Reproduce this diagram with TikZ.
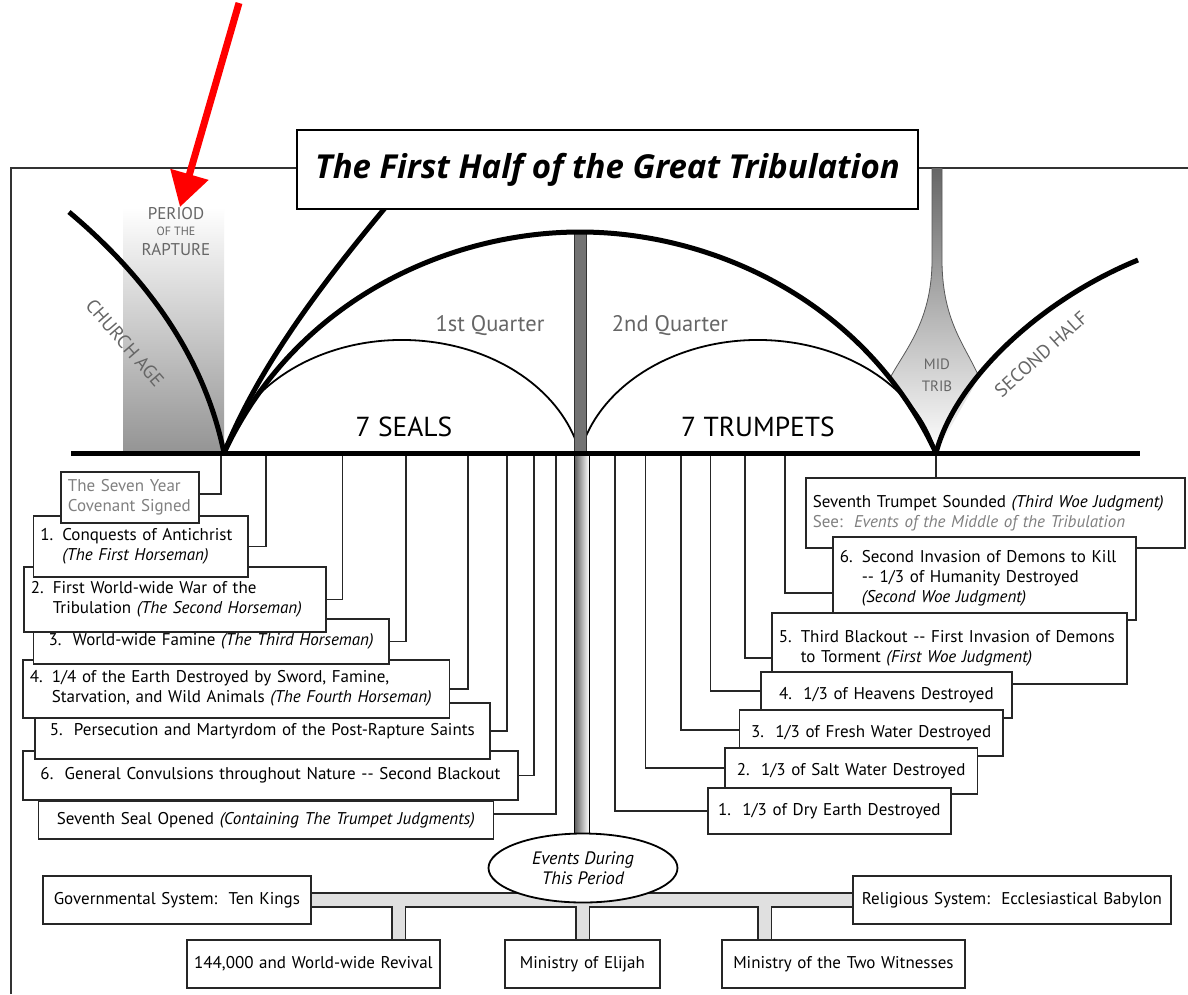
\documentclass[tikz,border=0pt]{standalone}
\usepackage{fontspec}
\setmainfont{PT Sans}
\newfontfamily\titlefont{Open Sans}
\usetikzlibrary{arrows.meta,shapes.geometric}

\newcommand{\hangtab}[3]{\begin{tabular}{@{}l@{\hspace{9pt}}l@{}}#1 & #2\\ & #3\end{tabular}}

\begin{document}
\begin{tikzpicture}[x=1pt,y=-1pt]
   \tikzstyle{every node}=[inner sep=0pt]
   \tikzstyle{box}=[draw=black!85,line width=1.8pt,fill=white,anchor=north west,inner xsep=7pt,font=\fontsize{17}{20}\selectfont]
   \tikzstyle{conn}=[line width=1.5pt,black!85]
   \tikzstyle{greytext}=[black!60]

   \useasboundingbox [fill=white] (0,0) rectangle (1188,994) ;
   \draw [line width=2pt,black!80] (10.5,994) -- (10.5,168) -- (1188,168) ;

   % period of the rapture
   \shade [top color=white,bottom color=black!42] (123,207) rectangle (224,453) ;

   % mid trib funnel
   \shade [top color=black!60,bottom color=white] (932,168) -- (932,263)
      .. controls (931,322) and (905,350) .. (890,378) -- (936,453) -- (979,377)
      .. controls (965,345) and (943,322) .. (942,263) -- (942,168) -- cycle ;
   \draw [black!65,line width=0.8pt] (932,168) -- (932,263) .. controls (931,322) and (905,350) .. (890,378) ;
   \draw [black!65,line width=0.8pt] (942,168) -- (942,263) .. controls (943,322) and (965,345) .. (979,377) ;

   \coordinate (c0) at (224,453) ;
   \coordinate (c1) at (580,453) ;
   \coordinate (c2) at (936,453) ;
   \coordinate (top) at (580,232) ;

   % quarters, halves
   \draw [line width=1.8pt] (c0) arc [start angle=192.1,end angle=347.9,x radius=182,y radius=143] ;
   \draw [line width=1.8pt] (c1) arc [start angle=192.1,end angle=347.9,x radius=182,y radius=143] ;
   \draw [fill=black!55,draw=black!80,line width=0.8pt] (574.5,232) rectangle (586.5,453) ;
   \draw [line width=5pt] (69,212) .. controls (150,280) and (205,360) .. (c0) ;
   \draw [line width=5pt] (c0) .. controls (261.5,360.3) and (330.7,272.6) .. (395,196) ;
   \draw [line width=5pt] (c0) .. controls (295.8,298.9) and (450,232) .. (top)
      .. controls (710,232) and (864.2,298.9) .. (c2) ;
   \draw [line width=5pt] (c2) .. controls (955,380) and (1040,300) .. (1138,260) ;

   \node (title) [draw,line width=2.6pt,fill=white,minimum width=621pt,minimum height=79pt,font=\titlefont\fontsize{33}{36}\selectfont\bfseries\itshape] at (607.5,169.5) {The First Half of the Great Tribulation} ;

   \node (per) [greytext,font=\fontsize{17}{18}\selectfont] at (176,214) {PERIOD} ;
   \node (ofthe) [greytext,font=\fontsize{12}{13}\selectfont] at (176,231) {OF THE} ;
   \node (rap) [greytext,font=\fontsize{17}{18}\selectfont] at (176,250) {RAPTURE} ;
   \node (church) [greytext,rotate=-49,font=\fontsize{19}{20}\selectfont] at (125,343) {CHURCH AGE} ;
   \node (second) [greytext,rotate=42,font=\fontsize{19}{20}\selectfont] at (1041,354) {SECOND HALF} ;
   \node (mid) [greytext,font=\fontsize{15}{16}\selectfont] at (937,364) {MID} ;
   \node (trib) [greytext,font=\fontsize{15}{16}\selectfont] at (937,386) {TRIB} ;
   \node (q1) [greytext,font=\fontsize{22.5}{24}\selectfont] at (490,326) {1st Quarter} ;
   \node (q2) [greytext,font=\fontsize{22.5}{24}\selectfont] at (670,326) {2nd Quarter} ;
   \node (seals) [font=\fontsize{27.5}{30}\selectfont] at (404,427) {7 SEALS} ;
   \node (trumps) [font=\fontsize{27.5}{30}\selectfont] at (758,427) {7 TRUMPETS} ;

   % seals, lowest first
   \node (s7) [box,text width=441pt,minimum height=38pt,align=center] at (37.5,800) {Seventh Seal Opened \textit{(Containing The Trumpet Judgments)}} ;
   \node (s6) [box,text width=481pt,minimum height=49pt,align=center] at (22,750) {6.\ \ General Convulsions throughout Nature -{}- Second Blackout} ;
   \node (s5) [box,text width=441.3pt,minimum height=56pt,align=center] at (33.7,702) {5.\ \ Persecution and Martyrdom of the Post-Rapture Saints} ;
   \node (s4) [box,text width=412.5pt,minimum height=58pt,align=left] at (22,659) {\hangtab{4.}{1/4 of the Earth Destroyed by Sword, Famine,}{Starvation, and Wild Animals \textit{(The Fourth Horseman)}}} ;
   \node (s3) [box,text width=341.5pt,minimum height=45pt,align=center] at (32.5,618) {3.\ \ World-wide Famine \textit{(The Third Horseman)}} ;
   \node (s2) [box,text width=288pt,minimum height=65pt,align=left] at (23,566) {\hangtab{2.}{First World-wide War of the}{Tribulation \textit{(The Second Horseman)}}} ;
   \node (s1) [box,text width=200.5pt,minimum height=61pt,align=left] at (32.5,515) {\hangtab{1.}{Conquests of Antichrist}{\textit{(The First Horseman)}}} ;
   \node (cov) [box,text width=124pt,minimum height=51pt,align=left,text=black!50] at (60,471) {The Seven Year\\Covenant Signed} ;

   % trumpets, highest first
   \node (t7) [box,text width=365pt,minimum height=70pt,align=left] at (805,477) {Seventh Trumpet Sounded \textit{(Third Woe Judgment)}\\\textcolor{black!50}{See:\ \ \textit{Events of the Middle of the Tribulation}}} ;
   \node (t6) [box,text width=289pt,minimum height=83pt,align=left] at (832,536) {\begin{tabular}{@{}l@{\hspace{9pt}}l@{}}6. & Second Invasion of Demons to Kill\\ & -{}- 1/3 of Humanity Destroyed\\ & \textit{(Second Woe Judgment)}\end{tabular}} ;
   \node (t5) [box,text width=341pt,minimum height=71pt,align=left] at (771,612) {\hangtab{5.}{Third Blackout -{}- First Invasion of Demons}{to Torment \textit{(First Woe Judgment)}}} ;
   \node (t4) [box,text width=237pt,minimum height=46pt,align=center] at (760,671) {4.\ \ 1/3 of Heavens Destroyed} ;
   \node (t3) [box,text width=249.5pt,minimum height=46pt,align=center] at (738.5,709) {3.\ \ 1/3 of Fresh Water Destroyed} ;
   \node (t2) [box,text width=238.5pt,minimum height=46pt,align=center] at (724,747) {2.\ \ 1/3 of Salt Water Destroyed} ;
   \node (t1) [box,text width=229pt,minimum height=46pt,align=center] at (707,787) {1.\ \ 1/3 of Dry Earth Destroyed} ;

   % hooks onto the time line
   \foreach \n/\x in {cov/221,s1/266,s2/342.5,s3/406,s4/468,s5/507,s6/534,s7/556,t1/615,t2/645.5,t3/681,t4/710.5,t5/745,t6/785}
      \coordinate (b\n) at (\x,453) ;
   \draw [conn] ([yshift=3.5pt]cov.east) -| (bcov) ;
   \draw [conn] (s1.east) -| (bs1) ;
   \draw [conn] (s2.east) -| (bs2) ;
   \draw [conn] (s3.east) -| (bs3) ;
   \draw [conn] (s4.east) -| (bs4) ;
   \draw [conn] (s5.east) -| (bs5) ;
   \draw [conn] (s6.east) -| (bs6) ;
   \draw [conn] ([yshift=6pt]s7.east) -| (bs7) ;
   \draw [conn] (t1.west) -| (bt1) ;
   \draw [conn] ([yshift=3pt]t2.west) -| (bt2) ;
   \draw [conn] ([yshift=3pt]t3.west) -| (bt3) ;
   \draw [conn] ([yshift=4pt]t4.west) -| (bt4) ;
   \draw [conn] ([yshift=-9.5pt]t5.west) -| (bt5) ;
   \draw [conn] ([yshift=-14.5pt]t6.west) -| (bt6) ;
   \draw [conn] (c2) -- (c2 |- t7.north) ;

   % stem down to the events
   \draw [line width=0.8pt,left color=black!65,right color=white] (574,453) rectangle (589,840) ;
   \draw [line width=5pt] (71,453) -- (1140,453) ;

   % events during this period
   \node (gov) [box,text width=254pt,minimum height=48pt,align=center] at (42,875) {Governmental System:\ \ Ten Kings} ;
   \node (rel) [box,text width=304pt,minimum height=48pt,align=center] at (852,875) {Religious System:\ \ Ecclesiastical Babylon} ;
   \node (rev) [box,text width=239pt,minimum height=48pt,align=center] at (186,939) {144,000 and World-wide Revival} ;
   \node (eli) [box,text width=141pt,minimum height=48pt,align=center] at (504,939) {Ministry of Elijah} ;
   \node (wit) [box,text width=229pt,minimum height=48pt,align=center] at (721,939) {Ministry of the Two Witnesses} ;

   \coordinate (j1) at (398.5,899) ;
   \coordinate (j2) at (582.5,899) ;
   \coordinate (j3) at (764.5,899) ;
   \draw [line width=15.6pt,black!85] (gov.east) -- (rel.west) (j1) -- (j1 |- rev.north) (j2) -- (j2 |- eli.north) (j3) -- (j3 |- wit.north) ;
   \draw [line width=12pt,black!12] (gov.east) -- (rel.west) (j1) -- (j1 |- rev.north) (j2) -- (j2 |- eli.north) (j3) -- (j3 |- wit.north) ;

   \node (ev) [draw,ellipse,line width=1.8pt,fill=white,minimum width=189pt,minimum height=69pt,align=center,font=\fontsize{18}{20}\selectfont\itshape] at (583,868) {Events During\\This Period} ;

   % pointer
   \coordinate (arrtop) at (239,3) ;
   \coordinate (arrtip) at (180,207) ;
   \draw [red,line width=7pt,-{Triangle[length=34pt,width=38pt]}] (arrtop) -- (arrtip) ;
\end{tikzpicture}
\end{document}
